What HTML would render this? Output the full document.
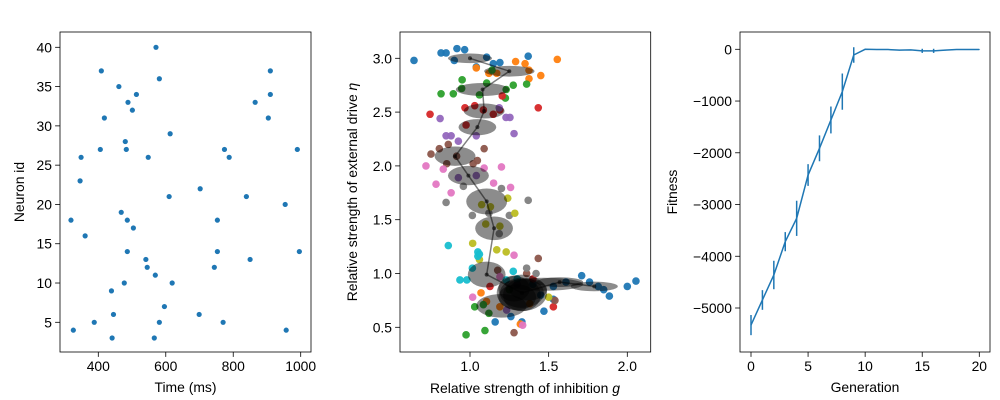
<!DOCTYPE html>
<html><head><meta charset="utf-8"><style>
html,body{margin:0;padding:0;background:#fff;}
svg{display:block;font-family:"Liberation Sans","DejaVu Sans",sans-serif;}
</style></head><body>
<svg id="fig" width="1000" height="400" viewBox="0 0 1000 400"></svg>
<script>
// ---- Panel 1 data (raster) ----
const spikeTimes = [571,409,910,581,461,513,910,488,865,501,418,904,613,480,406,483,774,990,349,548,788,346,702,610,839,954,468,319,486,753,504,361,486,753,996,541,850,545,744,569,477,619,439,596,445,699,388,581,770,326,957,441,566];
const spikeIds   = [40,37,37,36,35,34,34,33,33,32,31,31,29,28,27,27,27,27,26,26,26,23,22,21,21,20,19,18,18,18,17,16,14,14,14,13,13,12,12,11,10,10,9,7,6,6,5,5,5,4,4,3,3];
const p1xTicks = [400,600,800,1000];
const p1yTicks = [5,10,15,20,25,30,35,40];

// ---- Panel 2 data (population scatter per generation) ----
const popColors = ["#1f77b4","#ff7f0e","#2ca02c","#d62728","#9467bd","#8c564b","#e377c2","#7f7f7f","#bcbd22","#17becf"];
const popG = [
 [0.644,0.816,0.848,0.917,0.966,0.90,1.106,1.148,1.19,1.37,1.04,1.71,1.76,1.815,1.85,1.886,2.0,2.055,1.61,1.53,1.47,1.16,1.33,1.26,1.53,1.40,1.45],
 [1.555,1.35,1.375,1.45,1.375,1.04,1.12,1.17,1.29,1.07,1.105,1.32,1.19,1.38],
 [0.95,0.816,0.894,0.947,1.06,1.106,1.275,1.36,1.23,1.225,1.14,0.975,1.095,1.03,1.12,1.085,1.25],
 [0.746,0.968,0.975,1.03,1.085,1.148,1.205,1.434,1.19,1.53,1.127,1.40],
 [0.81,0.848,0.88,0.926,1.04,1.186,1.229,1.254,1.28,0.926,1.04,1.233,1.30],
 [0.805,0.752,0.862,0.852,0.915,1.09,1.02,1.047,1.434,1.28,1.176,1.36,1.54],
 [0.72,0.784,0.88,0.83,1.09,1.20,1.258,1.15,1.28,1.017,1.335,1.19],
 [0.848,0.958,1.015,1.12,1.2,1.37,1.25,1.36,1.42,1.186],
 [1.24,1.285,1.074,1.13,1.10,1.17,1.23,1.017,1.06,1.50,1.19],
 [0.862,1.05,1.05,0.936,0.98,1.015,1.23,1.275,1.06,1.30]
];
const popEta = [
 [2.98,3.05,3.05,3.09,3.08,2.98,3.01,2.95,2.96,3.02,2.92,0.98,0.92,0.88,0.85,0.79,0.88,0.93,0.92,0.88,0.65,0.55,0.55,0.60,0.76,0.90,0.80],
 [2.99,2.95,2.89,2.84,2.81,2.91,2.86,2.86,2.97,0.82,0.74,0.53,0.69,0.72],
 [2.80,2.67,2.67,2.72,2.66,2.77,2.75,2.76,2.71,2.63,2.89,0.43,0.47,0.69,0.63,0.71,0.85],
 [2.48,2.54,2.38,2.56,2.52,2.48,2.65,2.54,2.52,0.69,0.88,0.95],
 [2.44,2.28,2.28,2.23,2.28,2.54,2.45,2.45,2.30,1.89,1.91,0.66,0.90],
 [2.16,2.11,2.20,2.02,2.09,2.16,2.02,2.05,1.14,0.45,1.03,1.00,0.75],
 [2.0,1.83,1.75,1.97,1.98,1.99,1.80,1.84,1.17,0.78,0.52,0.97],
 [1.66,1.81,1.54,1.56,1.79,1.68,1.54,1.05,1.0,1.37],
 [1.70,1.56,1.64,1.62,1.46,1.22,1.20,1.28,1.13,0.78,1.44],
 [1.26,1.20,1.16,0.94,0.94,1.05,0.94,1.02,1.18,0.95]
];
const meanG   = [1.0,1.25,1.08,1.09,1.047,0.905,0.99,1.106,1.153,1.106,1.33,1.57,1.79];
const meanEta = [3.0,2.88,2.71,2.51,2.36,2.09,1.91,1.67,1.42,0.99,0.82,0.92,0.88];
const sdG     = [0.14,0.16,0.17,0.13,0.12,0.13,0.13,0.13,0.12,0.12,0.16,0.15,0.15];
const sdEta   = [0.045,0.05,0.06,0.07,0.075,0.09,0.09,0.12,0.11,0.12,0.17,0.045,0.045];
const extraEllG = [1.2,1.33,1.47,1.33,1.30,1.37,1.28];
const extraEllEta=[0.70,0.80,0.90,0.82,0.78,0.85,0.86];
const extraEllSdG=[0.16,0.12,0.25,0.14,0.12,0.12,0.10];
const extraEllSdEta=[0.11,0.15,0.06,0.14,0.12,0.10,0.12];
const p2xTicks=[1.0,1.5,2.0]; const p2yTicks=[0.5,1.0,1.5,2.0,2.5,3.0];

// ---- Panel 3 data (fitness) ----
const generations=[0,1,2,3,4,5,6,7,8,9,10,11,12,13,14,15,16,17,18,19,20];
const fitness=[-5330,-4845,-4362,-3718,-3267,-2430,-1914,-1366,-818,-110,0,-5,-5,-15,-10,-30,-30,-15,-5,-5,-5];
const fitnessErr=[195,190,275,185,340,210,250,260,350,150,5,5,5,10,5,40,40,10,5,5,5];
const p3xTicks=[0,5,10,15,20]; const p3yTicks=[0,-1000,-2000,-3000,-4000,-5000];

const NS="http://www.w3.org/2000/svg";
const svg=document.getElementById('fig');
function mk(tag,attrs,parent){const e=document.createElementNS(NS,tag);for(const k in attrs)e.setAttribute(k,attrs[k]);(parent||svg).appendChild(e);return e;}
function lin(d0,d1,r0,r1){return v=>r0+(v-d0)*(r1-r0)/(d1-d0);}

function axes(box,xs,ys,xt,yt,xfmt,yfmt,name){
  const g=mk('g',{});
  
  
  mk('rect',{x:box.l,y:box.t,width:box.r-box.l,height:box.b-box.t,fill:'none',stroke:'#000','stroke-width':0.8},g);
  xt.forEach(v=>{const x=xs(v);
    mk('line',{x1:x,x2:x,y1:box.b,y2:box.b+4.9,stroke:'#000','stroke-width':0.8},g);
    const t=mk('text',{x:x,y:box.b+19,'text-anchor':'middle','font-size':13.9,fill:'#000'},g);t.textContent=xfmt(v);
    
    });
  yt.forEach(v=>{const y=ys(v);
    mk('line',{x1:box.l-4.9,x2:box.l,y1:y,y2:y,stroke:'#000','stroke-width':0.8},g);
    const t=mk('text',{x:box.l-8,y:y+5,'text-anchor':'end','font-size':13.9,fill:'#000'},g);t.textContent=yfmt(v);
    
    });
  return g;
}
function label(txt,x,y,rot,name){const t=mk('text',{x:x,y:y,'text-anchor':'middle','font-size':13.9,fill:'#000',transform:rot?`rotate(-90 ${x} ${y})`:''});t.innerHTML=txt;
  
  return t;}

// Panel 1
const b1={l:60,r:311,t:32,b:352};
const x1=lin(400,1000,98.3,300.7), y1=lin(5,40,322.3,47.3);
const g1=mk('g',{});


spikeTimes.forEach((t,i)=>{const c=mk('circle',{cx:x1(t),cy:y1(spikeIds[i]),r:2.6,fill:'#1f77b4'},g1);
  
  });
axes(b1,x1,y1,p1xTicks,p1yTicks,v=>String(v),v=>String(v),'raster');
label('Time (ms)',185.5,392,false,'x-axis-title-time');
label('Neuron id',24,192,true,'y-axis-title-neuron');

// Panel 2
const b2={l:400,r:650.7,t:32,b:352};
const x2=lin(1,2,470,627.3), y2=lin(0.5,3,327.3,58.3);
const clip=mk('clipPath',{id:'c2'});mk('rect',{x:b2.l,y:b2.t,width:b2.r-b2.l,height:b2.b-b2.t},clip);
const g2=mk('g',{'clip-path':'url(#c2)'});


popG.forEach((arr,ci)=>arr.forEach((gv,i)=>{const c=mk('circle',{cx:x2(gv),cy:y2(popEta[ci][i]),r:3.8,fill:popColors[ci],opacity:0.95},g2);
  
  }));
meanG.forEach((m,i)=>{const e=mk('ellipse',{cx:x2(m),cy:y2(meanEta[i]),rx:sdG[i]*157.3,ry:sdEta[i]*107.6,fill:'#000',opacity:0.45},g2);
  
  });
extraEllG.forEach((m,i)=>{const e=mk('ellipse',{cx:x2(m),cy:y2(extraEllEta[i]),rx:extraEllSdG[i]*157.3,ry:extraEllSdEta[i]*107.6,fill:'#000',opacity:0.45},g2);
  
  });
const pl=mk('polyline',{points:meanG.map((m,i)=>x2(m)+','+y2(meanEta[i])).join(' '),fill:'none',stroke:'#000','stroke-width':1.5,opacity:0.5},g2);


meanG.forEach((m,i)=>{const c=mk('circle',{cx:x2(m),cy:y2(meanEta[i]),r:2,fill:'#000',opacity:0.6},g2);
  
  });
axes(b2,x2,y2,p2xTicks,p2yTicks,v=>v.toFixed(1),v=>v.toFixed(1),'population');
label('Relative strength of inhibition <tspan font-style="italic">g</tspan>',525,393,false,'x-axis-title-inhibition');
label('Relative strength of external drive <tspan font-style="italic">η</tspan>',357,192,true,'y-axis-title-drive');

// Panel 3
const b3={l:740,r:990,t:32,b:352};
const x3=lin(0,20,751,979.3), y3=lin(0,-5000,49.3,308);
const g3=mk('g',{});


generations.forEach((gn,i)=>{const l=mk('line',{x1:x3(gn),x2:x3(gn),y1:y3(fitness[i]-fitnessErr[i]),y2:y3(fitness[i]+fitnessErr[i]),stroke:'#1f77b4','stroke-width':1.5},g3);
  
  });
const fl=mk('polyline',{points:generations.map((gn,i)=>x3(gn)+','+y3(fitness[i])).join(' '),fill:'none',stroke:'#1f77b4','stroke-width':1.5},g3);


axes(b3,x3,y3,p3xTicks,p3yTicks,v=>String(v),v=>v<0?'\u2212'+(-v):String(v),'fitness');
label('Generation',865,392,false,'x-axis-title-generation');
label('Fitness',677,192,true,'y-axis-title-fitness');
</script>
</body></html>
